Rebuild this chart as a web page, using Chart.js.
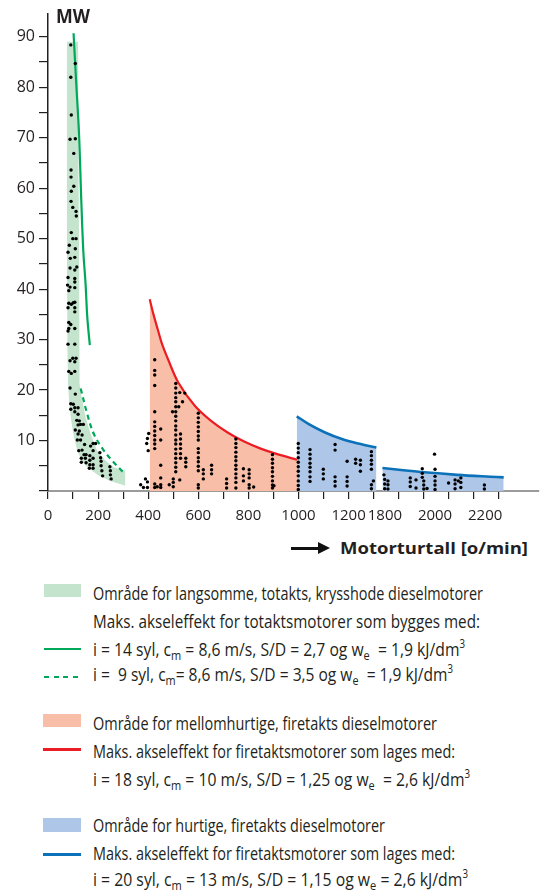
<!DOCTYPE html>
<html><head><meta charset="utf-8">
<script src="https://cdn.jsdelivr.net/npm/chart.js@4.4.1/dist/chart.umd.min.js"></script>
<style>
html,body{margin:0;padding:0;background:#fff;}
body{width:543px;height:895px;position:relative;overflow:hidden;font-family:"Open Sans",sans-serif;color:#231f20;}
#wrap{position:absolute;left:0;top:0;width:543px;height:530px;}
.t{position:absolute;white-space:nowrap;transform-origin:0 50%;line-height:22px;font-size:19px;}
sub,sup{line-height:0;}
sub{font-size:70%;vertical-align:-0.3em;}
sup{font-size:62%;vertical-align:0.65em;}
.sw{position:absolute;}
</style></head><body>
<div id="wrap"><canvas id="c"></canvas></div>

<div class="t" data-w="34" style="left:56px;top:5px;font-weight:700;font-size:19px;">MW</div>
<div class="sw" style="left:291px;top:546.5px;width:29px;height:3px;background:#111;"></div>
<div class="sw" style="left:318px;top:542px;width:0;height:0;border-left:12px solid #111;border-top:6px solid transparent;border-bottom:6px solid transparent;"></div>
<div class="t" data-w="188" style="left:340px;top:537px;font-weight:700;font-size:16px;">Motorturtall [o/min]</div>

<div class="sw" style="left:44px;top:584px;width:37px;height:13px;background:#c4e4cd;"></div>
<div class="t" data-w="390" style="left:93px;top:581.5px;">Område for langsomme, totakts, krysshode dieselmotorer</div>
<div class="t" data-w="387" style="left:93px;top:610px;">Maks. akseleffekt for totaktsmotorer som bygges med:</div>
<div class="sw" style="left:44px;top:647.5px;width:37px;height:2.5px;background:#00a859;"></div>
<div class="t" data-w="372" style="left:93px;top:637.5px;">i = 14 syl, c<sub>m</sub> = 8,6 m/s, S/D = 2,7 og w<sub>e</sub>&nbsp; = 1,9 kJ/dm<sup>3</sup></div>
<div class="sw" style="left:44px;top:675.5px;width:37px;height:2.5px;background:repeating-linear-gradient(90deg,#00a859 0 5px,transparent 5px 9.6px);"></div>
<div class="t" data-w="360" style="left:93px;top:663px;">i =&nbsp; 9 syl, c<sub>m</sub>= 8,6 m/s, S/D = 3,5 og w<sub>e</sub>&nbsp; = 1,9 kJ/dm<sup>3</sup></div>

<div class="sw" style="left:43px;top:714px;width:38px;height:13px;background:#f9bea7;"></div>
<div class="t" data-w="344" style="left:93px;top:711.5px;">Område for mellomhurtige, firetakts dieselmotorer</div>
<div class="sw" style="left:43px;top:748px;width:38px;height:2.5px;background:#ec1c24;"></div>
<div class="t" data-w="362" style="left:93px;top:740px;">Maks. akseleffekt for firetaktsmotorer som lages med:</div>
<div class="t" data-w="377" style="left:93px;top:767.5px;">i = 18 syl, c<sub>m</sub> = 10 m/s, S/D = 1,25 og w<sub>e</sub>&nbsp; = 2,6 kJ/dm<sup>3</sup></div>

<div class="sw" style="left:43px;top:818px;width:38px;height:13.5px;background:#aec6e8;"></div>
<div class="t" data-w="292" style="left:93px;top:814px;">Område for hurtige, firetakts dieselmotorer</div>
<div class="sw" style="left:43px;top:853px;width:38px;height:2.5px;background:#0b72b9;"></div>
<div class="t" data-w="362" style="left:93px;top:842px;">Maks. akseleffekt for firetaktsmotorer som lages med:</div>
<div class="t" data-w="375" style="left:93px;top:868px;">i = 20 syl, c<sub>m</sub> = 13 m/s, S/D = 1,15 og w<sub>e</sub> = 2,6 kJ/dm<sup>3</sup></div>

<script>
// ---- data (x = motor speed in o/min, y = power in MW) ----
const greenBandUpper = [[75,89],[120,89],[122,62],[124,47.5],[125,27.7],[127,21.2],[137,17.9],[150,14.6],[170,11.3],[196,8.0],[230,6.0],[262,4.7],[309,4.0]];
const greenBandLower = [[75,89],[75.6,47.5],[77.6,27.7],[80,21.2],[84,17.9],[91,14.6],[101,11.3],[117,8.0],[135,6.0],[157,4.7],[203,3.0],[249,2.0],[309,1.05]];
const greenMax14 = [[102,90.7],[113,80.5],[124,70.6],[133,57.4],[141,47.5],[150,41.0],[157,34.3],[167,28.9]];
const greenMax9 = [[130.5,20.3],[157,15.2],[183,11.3],[223,8.0],[262,5.7],[304.5,3.5]];
const redMax = [[406,38.0],[421,35.0],[440,31.7],[454,29.3],[480,26.0],[520,21.5],[586,16.9],[651,13.9],[717,11.6],[783,9.8],[849,8.4],[915,7.3],[994,6.2]];
const blueMaxA = [[993,14.8],[1041,13.25],[1106,11.6],[1173,10.3],[1239,9.4],[1311,8.6]];
const blueMaxB = [[1790,4.55],[1865,4.15],[1957,3.7],[2089,3.2],[2221,2.83],[2274,2.7]];

const greenDots = [[91,88.4],[109,84.7],[91,82.0],[93,74.5],[88,69.7],[109,69.8],[103,66.9],[92,63.6],[92,62.2],[103,60.4],[93,59.4],[92,57.4],[99,56.2],[112,55.4],[113,54.5],[93,51.2],[99,50.0],[112,50.0],[85,48.7],[109,48.0],[80,47.3],[89,46.1],[107,46.3],
[115,44.4],[88,44.2],[107,43.8],[80,42.3],[107,42.1],[107,41.4],[78,40.8],[88,40.4],[83,39.7],[107,40.3],[83,37.2],[93,37.0],[101,37.3],[107,37.4],[107,36.3],[80,36.3],[107,35.5],[83,33.4],[91,33.0],[83,32.2],[80,31.7],[107,32.2],[80,29.1],[107,29.1],[99,26.3],[112,26.3],[88,25.8],[107,25.6],[83,23.7],[93,23.3],[107,23.7],[88,20.4],[109,19.2],[91,17.3],[101,17.2],[107,16.5],[91,16.2],[120,16.5],[107,15.7],[120,15.2],[115,14.0],[125,13.9],[130,13.2],[120,13.1],[109,12.1],[125,11.9],[141,13.2],[120,11.3],[136,11.1],[117,10.1],[130,10.1],[146,9.2],[123,8.0],[136,8.1],[170,8.9],[144,7.2],[152,7.2],[180,9.4],[190,9.4],[133,6.5],[149,6.5],[167,7.0],[180,8.0],[133,5.7],[152,5.6],[167,6.1],[180,6.5],[207,7.6],[210,6.6],[167,5.2],[180,5.2],[165,4.5],[180,4.5],[212,5.9],[212,5.0],[215,4.0],[218,3.0],[247,4.8],[249,4.0],[249,3.2],[252,2.4]];

const redDots = [[370,1.25],[381,0.7],[389,2.4],[397,0.7],[397,1.8],[402,11.4],[397,10.4],[394,9.4],[400,8.0],
[426,26.0],[426,23.9],[426,23.0],[426,20.9],[426,15.7],[426,13.7],[426,12.8],[426,11.9],[426,11.0],[426,10.1],[426,9.3],[426,8.4],[426,1.4],[426,0.7],
[436,0.85],[450,12.3],[450,10.1],[450,5.1],[450,2.6],[450,1.25],[450,0.7],
[484,1.25],[497,15.7],[500,2.4],[500,1.7],[500,0.85],
[510,21.3],[510,20.4],[510,19.4],[510,18.5],[510,17.7],[510,16.7],[510,15.7],[510,14.8],[510,13.9],[510,12.9],[510,12.1],[510,11.1],[510,10.1],[510,9.3],[510,8.3],[510,7.4],[510,6.5],[510,5.6],[510,4.7],[510,3.8],
[522,16.7],[526,19.5],[526,2.2],
[529,11.3],[529,10.3],[529,9.3],[529,8.4],[529,7.4],[529,6.5],
[537,17.7],[546,19.4],[550,6.5],[550,5.7],[550,4.8],
[600,15.4],[600,14.5],[600,13.6],[600,12.7],[600,11.8],[600,10.9],[600,10.1],[600,8.4],[600,7.6],[600,6.6],[600,5.8],[600,4.9],[600,4.0],[600,1.25],[600,0.6],
[620,4.2],[620,3.4],[620,2.4],[653,5.1],[653,4.2],[653,3.4],[713,2.4],[713,1.5],[713,0.6],
[750,10.3],[750,9.4],[750,8.6],[750,7.7],[750,6.8],[750,6.0],[750,5.1],[750,4.3],[750,3.4],[750,2.6],[750,1.7],[750,0.6],
[780,4.4],[780,3.0],[780,2.0],[803,4.2],[803,3.4],[803,2.6],[803,1.25],[803,0.6],[821,0.8],
[896,7.2],[896,6.3],[896,5.5],[896,4.6],[896,3.8],[896,2.9],[896,2.0],[896,1.2],[896,0.6],[902,1.05]];

const blueDots = [[999,9.4],[999,8.5],[999,7.6],[999,6.6],[999,5.7],[999,4.8],[999,3.9],[999,3.0],[999,2.0],[999,1.1],[999,0.3],
[1046,8.2],[1046,7.3],[1046,6.4],[1046,5.5],[1046,4.7],[1046,3.8],[1046,2.8],[1046,1.9],
[1099,4.3],[1099,3.4],[1099,2.4],[1146,9.2],[1146,8.1],[1146,2.8],[1146,1.9],[1146,1.0],
[1194,5.9],[1194,2.8],[1194,1.9],[1194,1.0],[1228,6.3],[1228,5.5],[1247,6.1],[1247,5.2],[1247,3.9],
[1291,7.8],[1291,7.0],[1291,6.1],[1291,5.3],[1291,4.3],[1299,2.0],[1291,1.25],[1291,0.45],
[1796,3.2],[1799,2.3],[1799,1.4],[1799,0.45],[1812,2.0],[1812,1.25],[1812,0.4],
[1901,2.6],[1901,1.8],[1901,0.9],[1924,2.2],[1924,0.6],
[1949,4.4],[1949,3.5],[1949,2.7],[1955,2.0],[1955,1.2],[1955,0.4],[1968,0.5],
[1998,7.3],[2000,4.3],[2000,2.9],[2000,2.0],[2000,1.2],[2000,0.3],[2054,1.6],
[2080,2.2],[2080,1.4],[2080,0.45],[2093,2.0],[2103,2.6],[2103,1.7],[2103,0.7],[2197,1.2],[2197,0.4]];

const yTicks = [0,5,10,15,20,25,30,35,40,45,50,55,60,65,70,75,80,85,90];
const xTickMarks = [0,100,200,300,400,500,600,700,800,900,1000,1100,1200,1300,1855,1955,2055,2155,2255];
const xTickLabels = [0,200,400,600,800,1000,1200,1800,2000,2200];

// broken axis: speeds above BREAK_AT are drawn shifted left by BREAK_SHIFT
const BREAK_AT = 1500, BREAK_SHIFT = 455;
const X_MIN = 0, X_MAX = 2415;
const toAxis = v => (v > BREAK_AT ? v - BREAK_SHIFT : v);

class BrokenScale extends Chart.LinearScale {
  getPixelForValue(v) {
    if (v === null || v === undefined) return NaN;
    const a0 = toAxis(this.min), a1 = toAxis(this.max);
    return this.getPixelForDecimal((toAxis(v) - a0) / (a1 - a0));
  }
}
BrokenScale.id = 'broken';
BrokenScale.defaults = Chart.LinearScale.defaults;
Chart.register(BrokenScale);

const pts = a => a.map(p => ({x: p[0], y: p[1]}));
const ink = '#231f20';
Chart.defaults.font.family = "'Open Sans', sans-serif";
Chart.defaults.color = ink;

const dotDs = d => ({data: pts(d), showLine: false, pointRadius: 1.7, pointBackgroundColor: '#000', pointBorderWidth: 0, order: 0});
const lineDs = (d, color, extra) => Object.assign({data: pts(d), borderColor: color, borderWidth: 2.2, pointRadius: 0, tension: 0.35, fill: false, order: 1}, extra || {});

new Chart(document.getElementById('c'), {
  type: 'line',
  data: {datasets: [
    dotDs(greenDots), dotDs(redDots), dotDs(blueDots),
    lineDs(greenMax14, '#00a859'),
    lineDs(greenMax9, '#00a859', {borderDash: [5, 4]}),
    lineDs(redMax, '#ec1c24', {fill: 'origin', backgroundColor: '#f9bea7', order: 2}),
    lineDs(blueMaxA, '#0b72b9', {fill: 'origin', backgroundColor: '#aec6e8', borderWidth: 2.6, order: 2}),
    lineDs(blueMaxB, '#0b72b9', {fill: 'origin', backgroundColor: '#aec6e8', borderWidth: 2.6, order: 2}),
    {data: pts(greenBandUpper), borderWidth: 0, pointRadius: 0, tension: 0, fill: '+1', backgroundColor: '#c4e4cd', order: 3},
    {data: pts(greenBandLower), borderWidth: 0, pointRadius: 0, tension: 0, fill: false, order: 3}
  ]},
  options: {
    responsive: true, maintainAspectRatio: false, animation: false,
    layout: {padding: {top: 13, right: 0, left: 0, bottom: 0}},
    plugins: {legend: {display: false}, tooltip: {enabled: false}},
    scales: {
      x: {
        type: 'broken', position: 'bottom', min: X_MIN, max: X_MAX, bounds: 'data', weight: 0,
        afterBuildTicks: s => { s.ticks = xTickMarks.map(v => ({value: v})); },
        afterFit: s => { s.height = 9; },
        ticks: {display: false},
        grid: {drawOnChartArea: false, drawTicks: true, tickLength: 8, color: ink, lineWidth: 1.2},
        border: {color: '#9b9b9b', width: 2}
      },
      xl: {
        type: 'broken', axis: 'x', position: 'bottom', min: X_MIN, max: X_MAX, bounds: 'data', weight: 1,
        afterBuildTicks: s => { s.ticks = xTickLabels.map(v => ({value: v})); },
        afterFit: s => { s.height = 30; },
        ticks: {callback: v => String(v), font: {size: 15}, padding: 7, maxRotation: 0, autoSkip: false, color: ink},
        grid: {display: false, drawTicks: false},
        border: {display: false}
      },
      y: {
        type: 'linear', min: 0, max: 94.6, bounds: 'data',
        afterBuildTicks: s => { s.ticks = yTicks.map(v => ({value: v})); },
        afterFit: s => { s.width = 48; },
        ticks: {callback: v => (v > 0 && v % 10 === 0) ? String(v) : '', font: {size: 16}, padding: 4, color: ink, autoSkip: false},
        grid: {drawOnChartArea: false, drawTicks: true, tickLength: 9, color: ink, lineWidth: 1.2},
        border: {color: ink, width: 1.5}
      }
    }
  }
});

document.querySelectorAll('[data-w]').forEach(el => {
  const w = el.getBoundingClientRect().width;
  if (w > 0) el.style.transform = 'scaleX(' + (parseFloat(el.dataset.w) / w) + ')';
});
</script>
</body></html>
